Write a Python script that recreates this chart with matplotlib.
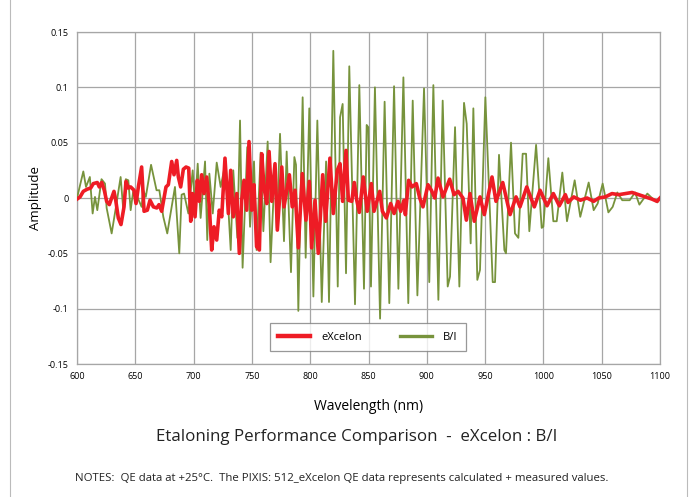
import numpy as np
import matplotlib
matplotlib.use("Agg")
import matplotlib.pyplot as plt
from matplotlib.lines import Line2D

# eXcelon (red)
exc_wl = [600, 602.6, 605.4, 608.8, 611.7, 614, 617.4, 619.1, 621.2, 623.4,
          625.4, 627.7, 629.7, 631.7, 633.2, 635.4, 637.7, 640.3, 642, 644,
          646, 648.9, 650.6, 652.6, 655.4, 657.5, 660.3, 662.6, 665.5, 668.4,
          670.3, 672.6, 676.3, 678.3, 681.2, 683.2, 685.5, 686.9, 688.9, 691.2,
          693.5, 695.8, 697.5, 699.2, 701.2, 703.2, 704.9, 706.9, 708.9, 711.2,
          713.5, 715.5, 717.5, 719.8, 722, 724.1, 726.9, 729.8, 731.8, 734,
          737, 739.2, 741.2, 743.2, 745.5, 747.5, 749.8, 751.8, 754, 756.4,
          758.4, 760.4, 762.7, 764.7, 767, 769.8, 771.8, 775.6, 777.5, 782.1,
          784.6, 787, 789.8, 793.2, 796.3, 799.2, 801.2, 804.1, 806.9, 810.7,
          813.2, 816.9, 819.8, 823.2, 825.6, 827.8, 830.7, 832.7, 835.6, 837.8,
          839.9, 842.1, 845.5, 848.9, 852.4, 854.7, 859.6, 861.9, 865.3, 869,
          871.9, 875.3, 877.6, 880.4, 881.6, 884.4, 887.3, 891, 893.9, 896.7,
          901, 903.9, 906.8, 909.6, 913.9, 919.6, 923.3, 926.8, 931, 933.9,
          937, 940.7, 945.6, 949.3, 955.9, 959.3, 965.1, 971.4, 976.5, 979.9,
          985.7, 992.2, 997.1, 1003.1, 1008.5, 1013.6, 1018.8, 1021.1, 1026, 1031.7,
          1037.4, 1043.1, 1047.4, 1053.1, 1058.8, 1064.5, 1070.2, 1076, 1081.7, 1087.4,
          1093.1, 1097.4, 1100]
exc_amp = [-0.001, 0.001, 0.006, 0.008, 0.009, 0.013, 0.014, 0.010, 0.014, 0.007,
           -0.003, -0.006, 0, 0.006, -0.002, -0.018, -0.024, -0.008, 0.015, 0.009,
           0.010, 0.007, -0.005, 0.010, 0.028, -0.012, -0.011, -0.002, -0.008, -0.009,
           -0.006, -0.012, 0.010, 0.012, 0.033, 0.021, 0.034, 0.019, 0.010, 0.026,
           0.028, 0.027, -0.021, 0.004, -0.017, 0.016, -0.003, 0.021, 0.004, 0.019,
           -0.008, -0.047, -0.026, -0.038, -0.011, -0.017, 0.036, -0.014, 0.025, -0.017,
           0.004, -0.050, -0.002, 0.016, -0.011, 0.051, -0.011, 0.012, -0.044, -0.047,
           0.040, 0.009, -0.005, 0.042, -0.003, 0.031, -0.029, 0.028, -0.008, 0.021,
           -0.008, 0.007, -0.045, 0.022, -0.020, 0.015, -0.045, -0.002, -0.050, 0.021,
           -0.021, 0.036, -0.014, 0.025, 0.031, -0.003, 0.043, -0.002, -0.003, 0.014,
           -0.002, -0.013, 0.019, -0.012, 0.013, -0.012, 0.006, -0.012, -0.018, -0.005,
           -0.014, -0.003, -0.012, -0.002, -0.015, 0.016, 0.010, 0.013, 0, -0.008,
           0.012, 0.007, 0, 0.018, 0.001, 0.017, 0.003, 0.006, 0, -0.020,
           0.004, -0.021, 0.001, -0.015, 0.019, -0.003, 0.014, -0.015, 0.001, -0.008,
           0.010, -0.008, 0.007, -0.007, 0.004, -0.007, 0.003, -0.004, 0.001, -0.002,
           0, -0.003, 0, 0.001, 0.004, 0.003, 0.004, 0.005, 0.003, 0.001,
           -0.001, -0.003, 0]

# B/I (green)
bi_wl = [600, 605.4, 607.7, 611, 613.4, 615.4, 617.4, 621, 624, 625.4,
         629.7, 633.4, 637.4, 639.7, 641.8, 644, 646, 648.3, 651.7, 655.4,
         656.8, 659, 663.5, 668.2, 670.6, 674, 677.4, 684, 687.7, 689.7,
         691.8, 695.5, 699.2, 701.2, 703.5, 706, 709.8, 711.7, 713.5, 716.4,
         719.8, 723.2, 727.5, 731.8, 734, 737.5, 739.8, 742, 746, 748.4,
         751.8, 754, 757.5, 759.8, 763.5, 766, 769.8, 771.3, 774.1, 777.5,
         779.8, 783.5, 786.4, 787.8, 789.8, 793.5, 796.1, 799.2, 802.7, 806.1,
         809.9, 813.6, 816.1, 819.8, 823.6, 825.6, 827.8, 830.7, 833.5, 838.4,
         842.1, 846.1, 848.4, 849.8, 852.1, 855.5, 859.9, 863.8, 867.8, 871.9,
         875.6, 879.9, 884.1, 887.9, 891.9, 897.6, 902.1, 905.6, 909.9, 913.6,
         917.9, 919.9, 924.2, 927.9, 931.9, 934.2, 937.6, 939.9, 943.3, 945.6,
         950.2, 956.5, 958.5, 961.9, 966.5, 967.9, 972.2, 975.6, 978.5, 982.2,
         985.1, 987.9, 993.7, 998.5, 999.9, 1004.2, 1008.5, 1011.4, 1016.2, 1020.2,
         1026.8, 1031.6, 1038.8, 1043.1, 1046.5, 1050.8, 1055.7, 1059.4, 1063.4, 1067.6,
         1074, 1078.6, 1082.3, 1089.1, 1093.1, 1097.7, 1100]
bi_amp = [0, 0.024, 0.010, 0.019, -0.014, 0.001, -0.011, 0.017, 0.013, -0.009,
          -0.032, -0.008, 0.019, -0.011, 0.017, 0.016, -0.011, 0.007, 0.001, -0.008,
          0.007, 0.001, 0.030, 0.007, 0.007, -0.017, -0.032, 0.010, -0.050, 0.003,
          0.004, -0.014, 0.025, -0.008, 0.031, -0.018, 0.033, -0.038, 0.022, -0.014,
          0.032, 0.010, 0.033, -0.047, 0.025, -0.036, 0.070, -0.063, 0.046, -0.026,
          0.033, -0.047, 0.041, -0.030, 0.051, -0.058, 0.031, -0.027, 0.058, -0.039,
          0.042, -0.067, 0.037, 0.030, -0.102, 0.091, -0.054, 0.081, -0.089, 0.070,
          -0.094, 0.033, -0.094, 0.133, -0.080, 0.073, 0.085, -0.068, 0.119, -0.096,
          0.102, -0.082, 0.066, 0.064, -0.080, 0.100, -0.109, 0.087, -0.095, 0.101,
          -0.082, 0.109, -0.095, 0.088, -0.088, 0.099, -0.076, 0.102, -0.092, 0.088,
          -0.080, -0.071, 0.064, -0.080, 0.086, 0.067, -0.041, 0.081, -0.074, -0.065,
          0.091, -0.076, -0.076, 0.039, -0.047, -0.050, 0.050, -0.032, -0.036, 0.040,
          0.040, -0.030, 0.048, -0.027, -0.026, 0.036, -0.021, -0.021, 0.023, -0.021,
          0.016, -0.017, 0.014, -0.011, -0.005, 0.013, -0.013, -0.008, 0.005, -0.002,
          -0.002, 0.005, -0.006, 0.004, 0, -0.004, 0]

x_ticks = [600, 650, 700, 750, 800, 850, 900, 950, 1000, 1050, 1100]
y_ticks = [-0.15, -0.1, -0.05, 0, 0.05, 0.1, 0.15]
y_labels = ['-0.15', '-0.1', '-0.05', '0', '0.05', '0.1', '0.15']

plt.rcParams['font.family'] = ['Open Sans', 'DejaVu Sans']

fig = plt.figure(figsize=(6.92, 4.97), dpi=100)
ax = fig.add_axes([0.1113, 0.2676, 0.8425, 0.668])

grid_c = '#a6a6a6'
ax.plot(bi_wl, bi_amp, color='#77933c', lw=1.3, label='B/I', zorder=3)
ax.plot(exc_wl, exc_amp, color='#ee1c25', lw=2.6, label='eXcelon', zorder=4,
        solid_joinstyle='round')

ax.set_xlim(600, 1100)
ax.set_ylim(-0.15, 0.15)
ax.set_xticks(x_ticks)
ax.set_yticks(y_ticks)
ax.set_yticklabels(y_labels)
ax.tick_params(length=0, labelsize=6.5, pad=6)
ax.grid(True, color=grid_c, lw=0.9)
for s in ax.spines.values():
    s.set_color(grid_c)
    s.set_linewidth(0.9)

ax.set_ylabel('Amplitude', fontsize=9.5, labelpad=4)
ax.set_xlabel('Wavelength (nm)', fontsize=10, labelpad=13)

handles = [Line2D([], [], color='#ee1c25', lw=3.2),
           Line2D([], [], color='#77933c', lw=2.4)]
leg = ax.legend(handles, ['eXcelon', 'B/I'], loc='center', ncol=2,
                bbox_to_anchor=(0.499, 0.081), fontsize=8, frameon=True,
                fancybox=False, handlelength=2.9, columnspacing=3.4,
                borderpad=0.75, handletextpad=1.0, borderaxespad=0)
leg.get_frame().set_edgecolor('#7f7f7f')
leg.get_frame().set_linewidth(0.9)

fig.text(0.516, 0.121, 'Etaloning Performance Comparison  -  eXcelon : B/I',
         ha='center', va='center', fontsize=12.2, color='#222222')
fig.text(0.108, 0.038,
         'NOTES:  QE data at +25\u00b0C.  The PIXIS: 512_eXcelon QE data '
         'represents calculated + measured values.',
         ha='left', va='center', fontsize=8.2, color='#222222')

# outer frame
fig.add_artist(Line2D([0.0145, 0.0145], [0, 1], color='#bbbbbb', lw=0.8))
fig.add_artist(Line2D([0.9925, 0.9925], [0, 1], color='#bbbbbb', lw=0.8))

fig.savefig('out.png', dpi=100)
